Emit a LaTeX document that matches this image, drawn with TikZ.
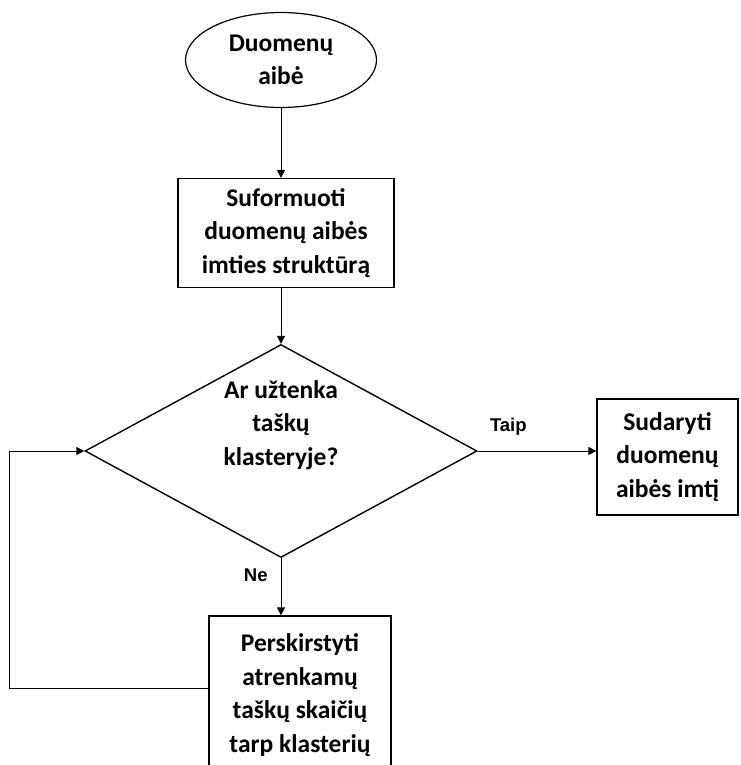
\documentclass[tikz,border=0pt]{standalone}
\usepackage{fontspec}
\setmainfont{Carlito}
\newfontfamily\lblfont{Liberation Sans}
\usetikzlibrary{arrows.meta,shapes.geometric,positioning}

\begin{document}
\begin{tikzpicture}[
				x=1pt,y=-1pt,
				txt/.style={font=\bfseries\fontsize{25.5}{33.5}\selectfont,align=center},
				proc/.style={draw,rectangle,line width=1.2pt,txt,inner sep=0pt},
				start/.style={draw,ellipse,line width=1.2pt,txt,inner sep=0pt,minimum width=191pt,minimum height=95pt},
				dec/.style={draw,diamond,line width=1.4pt,inner sep=0pt,shape aspect=1.84,minimum width=392pt,minimum height=213pt},
				lbl/.style={font=\lblfont\bfseries\fontsize{18.5}{20}\selectfont,inner sep=0pt},
				arr/.style={-{Triangle[length=8pt,width=8pt]},line width=0.9pt}
				]
				\useasboundingbox (0,0) rectangle (740,765);
				
				% Pradzia
				\node[start] (data) at (281,60) {Duomenų\\aibė};
				
				% Blokai
				\node[proc,minimum width=216pt,minimum height=109pt] (form) at (286,233) {Suformuoti\\duomenų aibės\\imties struktūrą};
				\node[dec] (check) at (281,451) {};
				\node[txt,inner sep=0pt] (checktxt) at (281,425) {Ar užtenka\\taškų\\klasteryje?};
				\node[proc,minimum width=141pt,minimum height=116pt] (sample) at (667.5,457) {Sudaryti\\duomenų\\aibės imtį};
				\node[proc,minimum width=182pt,minimum height=158pt] (redist) at (300,695) {Perskirstyti\\atrenkamų\\taškų skaičių\\tarp klasterių};
				
				% Rodykles
				\draw[arr] (check.east) -- (check.east -| sample.west)
					node[lbl,pos=0.1,above right=15pt and 0pt] (yes) {Taip};
				\draw[arr] (check.south) -- (check.south |- redist.north)
					node[lbl,pos=0.3,left=13pt] (no) {Ne};
				\draw[arr] (data.south) -- (data.south |- form.north);
				\draw[arr] (data.south |- form.south) -- (check.north);
				\draw[arr] ([yshift=7pt]redist.west) -- ++(-199,0) |- (check.west);
				
			\end{tikzpicture}
\end{document}
